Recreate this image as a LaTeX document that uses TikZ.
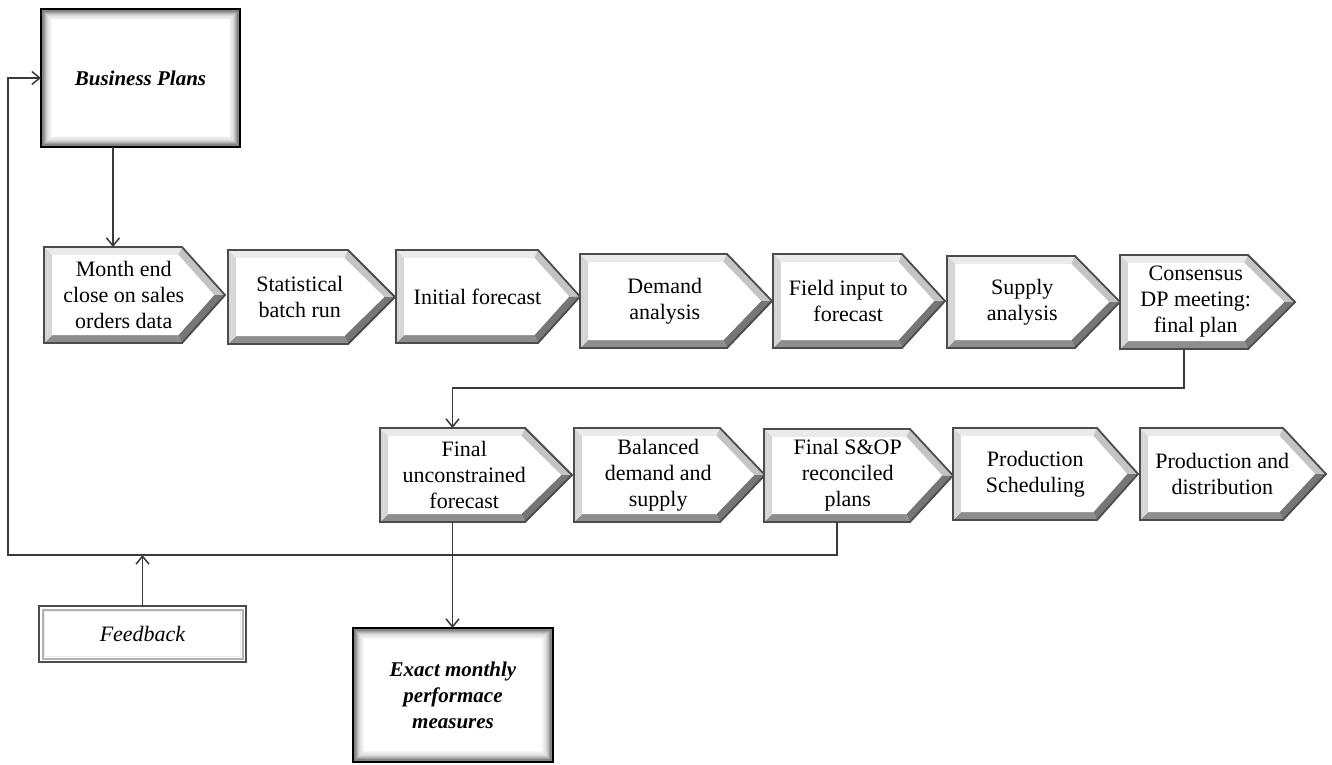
\documentclass[tikz,border=0pt]{standalone}
\usepackage{fontspec}
\setmainfont{Liberation Serif}
\usetikzlibrary{arrows.meta,calc}

\definecolor{edgegray}{HTML}{4C4C4C}
\definecolor{bvtop}{HTML}{EAEAEA}
\definecolor{bvleft}{HTML}{D6D6D6}
\definecolor{bvupr}{HTML}{C4C4C4}
\definecolor{bvlowr}{HTML}{767676}
\definecolor{bvbot}{HTML}{8E8E8E}
\definecolor{linkgray}{HTML}{3A3A3A}

\tikzset{
  chevedge/.style={draw=edgegray, line width=1.8pt, line join=miter},
  chevanchor/.style={draw=none, inner sep=0pt, outer sep=0pt},
  chevtext/.style={font=\fontsize{22}{26}\selectfont, align=center, inner sep=0pt},
  bigbox/.style={draw=black, line width=2.6pt, fill=white, inner sep=0pt, outer sep=0pt,
    path picture=\innerglow, align=center,
    font=\fontsize{21}{26}\selectfont\bfseries\itshape},
  notebox/.style={draw=black!70, line width=1.6pt, fill=white, inner sep=0pt, outer sep=0pt,
    path picture=\innerline, font=\fontsize{22}{26}\selectfont\itshape},
  link/.style={draw=linkgray, line width=1.5pt},
  linkarrow/.style={link, -{Straight Barb[length=8pt,width=13pt,line width=1.5pt]}},
}

% soft grey shading just inside the border of the emphasised boxes
\newcommand{\innerglow}{%
  \foreach \i/\c in {2/48,3.2/38,4.4/29,5.6/21,6.8/15,8/10,9.2/6,10.4/3}{%
    \draw[black!\c, line width=1.3pt]
      ([shift={(\i pt,-\i pt)}]path picture bounding box.north west) rectangle
      ([shift={(-\i pt,\i pt)}]path picture bounding box.south east);}}

% second, lighter frame inside the note box
\newcommand{\innerline}{%
  \draw[black!30, line width=2pt]
    ([shift={(3.5pt,-3.5pt)}]path picture bounding box.north west) rectangle
    ([shift={(-3.5pt,3.5pt)}]path picture bounding box.south east);
  \draw[black!8, line width=1.5pt]
    ([shift={(5.5pt,-5.5pt)}]path picture bounding box.north west) rectangle
    ([shift={(-5.5pt,5.5pt)}]path picture bounding box.south east);}

% bevelled arrow-shaped step: name, left, top, bottom, shoulder x, tip x, text
\newcommand{\chevron}[7]{%
  \pgfmathsetmacro\chM{(#3+#4)/2}%
  \pgfmathsetmacro\chSi{#5-3.6}%
  \pgfmathsetmacro\chPi{#6-10.9}%
  \pgfmathsetmacro\chLi{#2+8}%
  \pgfmathsetmacro\chTi{#3+8}%
  \pgfmathsetmacro\chBi{#4-8}%
  \fill[bvtop]  (#2,#3) -- (#5,#3) -- (\chSi,\chTi) -- (\chLi,\chTi) -- cycle;
  \fill[bvupr]  (#5,#3) -- (#6,\chM) -- (\chPi,\chM) -- (\chSi,\chTi) -- cycle;
  \fill[bvlowr] (#6,\chM) -- (#5,#4) -- (\chSi,\chBi) -- (\chPi,\chM) -- cycle;
  \fill[bvbot]  (#5,#4) -- (#2,#4) -- (\chLi,\chBi) -- (\chSi,\chBi) -- cycle;
  \fill[bvleft] (#2,#4) -- (#2,#3) -- (\chLi,\chTi) -- (\chLi,\chBi) -- cycle;
  \fill[white]  (\chLi,\chTi) -- (\chSi,\chTi) -- (\chPi,\chM) -- (\chSi,\chBi) -- (\chLi,\chBi) -- cycle;
  \draw[chevedge] (#2,#3) -- (#5,#3) -- (#6,\chM) -- (#5,#4) -- (#2,#4) -- cycle;
  \node[chevanchor, minimum width={#5-#2}, minimum height={#4-#3}] (#1) at ({(#2+#5)/2},\chM) {};
  \node[chevtext] (#1-t) at ({(#2+(#5+#6)/2)/2},\chM) {#7};
}

\begin{document}
\begin{tikzpicture}[x=1pt,y=-1pt]
\useasboundingbox (0,0) rectangle (1332,764);
\fill[white] (0,0) rectangle (1332,764);

% first row of steps
\chevron{me}{44}{247}{343}{182}{225}{Month end\\close on sales\\orders data}
\chevron{sb}{228}{250}{344}{348}{395}{Statistical\\batch run}
\chevron{if}{396}{250}{343}{538}{580}{Initial forecast}
\chevron{da}{580}{254}{348}{727}{772}{Demand\\analysis}
\chevron{fi}{773}{254}{348}{902}{945}{Field input to\\forecast}
\chevron{sa}{947}{256}{348}{1075}{1120}{Supply\\analysis}
\chevron{cm}{1120}{255}{349}{1248}{1295}{Consensus\\DP meeting:\\final plan}

% second row of steps
\chevron{fu}{380}{428}{522}{525}{572}{Final\\unconstrained\\forecast}
\chevron{bd}{574}{428}{522}{720}{765}{Balanced\\demand and\\supply}
\chevron{fs}{764}{429}{522}{910}{953}{Final S\&OP\\reconciled\\plans}
\chevron{ps}{953}{428}{520}{1097}{1138}{Production\\Scheduling}
\chevron{pd}{1140}{428}{520}{1283}{1326}{Production and\\distribution}

% boxes
\node[bigbox, minimum width=199pt, minimum height=138pt] (bp) at (140.5,78) {Business Plans};
\node[bigbox, minimum width=200pt, minimum height=134pt] (ex) at (453,695) {Exact monthly\\performace\\measures};
\node[notebox, minimum width=207pt, minimum height=56pt] (fb) at (142.5,634) {Feedback};

% connectors
\draw[linkarrow] (bp.south -| me.south) -- (me.north);
\draw[linkarrow] (cm.south) -- ++(0,39) -| (fu.north);
\coordinate (loopL) at (8,555);
\coordinate (loopT) at (8,78);
\draw[linkarrow] (fs.south) |- (loopL) -- (loopT) -- (bp.west);
\draw[linkarrow] (fb.north) -- (fb.north |- loopL);
\draw[linkarrow] (fu.south) -- (fu.south |- ex.north);
\end{tikzpicture}
\end{document}
